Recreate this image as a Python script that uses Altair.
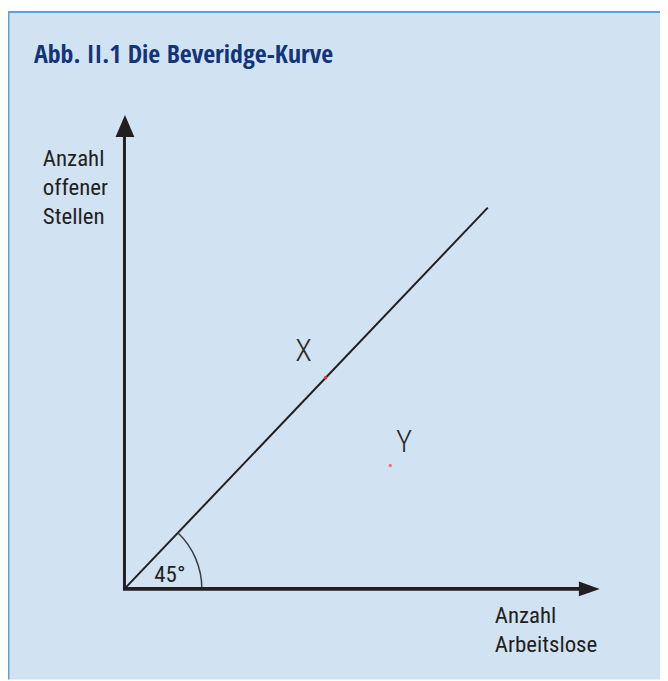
import altair as alt
import pandas as pd

# ---- content ----
title_text = "Abb. II.1  Die Beveridge-Kurve"
y_axis_label = "Anzahl\noffener\nStellen"
x_axis_label = "Anzahl\nArbeitslose"
angle_label = "45°"

# schematic coordinate system (origin of the diagram at 0,0)
curve_x = [0, 365]
curve_y = [0, 383]
point_names = ["X", "Y"]
point_x = [202, 267]
point_y = [212, 124]
point_colors = ["#ec2a33", "#f0707c"]
name_x = [180, 281]
name_y = [238, 147]
axis_end = [470, 458]       # ends of the x and y axis lines
arrow_pos = [467, 465]      # arrow heads (x axis, y axis)

W, H = 655, 671
xs = alt.Scale(domain=[-117, 538], nice=False, zero=False)
ys = alt.Scale(domain=[-91, 580], nice=False, zero=False)
FONT = "Roboto Condensed, Liberation Sans, sans-serif"
TFONT = "Open Sans Condensed, Roboto Condensed, sans-serif"
INK = "#231f20"

def X(f="x"):
    return alt.X(f"{f}:Q", scale=xs, axis=None)

def Y(f="y"):
    return alt.Y(f"{f}:Q", scale=ys, axis=None)

# diagonal line
curve_df = pd.DataFrame({"x": curve_x, "y": curve_y})
curve = alt.Chart(curve_df).mark_line(color=INK, strokeWidth=2).encode(x=X(), y=Y())

# axes
yaxis_df = pd.DataFrame({"x": [0], "y": [0], "y2": [axis_end[1]]})
yaxis = alt.Chart(yaxis_df).mark_rule(color=INK, strokeWidth=3).encode(
    x=X(), y=Y(), y2="y2:Q")
xaxis_df = pd.DataFrame({"x": [-1.5], "x2": [axis_end[0]], "y": [0]})
xaxis = alt.Chart(xaxis_df).mark_rule(color=INK, strokeWidth=4).encode(
    x=X(), x2="x2:Q", y=Y())

up_arrow = alt.Chart(pd.DataFrame({"x": [0.5], "y": [arrow_pos[1]]})).mark_point(
    shape="M-0.86,1L0.86,1L0,-1Z", size=484, filled=True, opacity=1, color=INK
).encode(x=X(), y=Y())
right_arrow = alt.Chart(pd.DataFrame({"x": [arrow_pos[0]], "y": [0]})).mark_point(
    shape="M-1,-0.7L1,0L-1,0.7Z", size=441, filled=True, opacity=1, color=INK
).encode(x=X(), y=Y())

# 45° arc
arc = alt.Chart(pd.DataFrame({"x": [0], "y": [0]})).mark_arc(
    radius=78.5, radius2=77, theta=0.761, theta2=1.5708, color="#3c3c3c"
).encode(x=X(), y=Y())

# points
pts_df = pd.DataFrame({"name": point_names, "x": point_x, "y": point_y,
                       "c": point_colors, "lx": name_x, "ly": name_y})
pts = alt.Chart(pts_df).mark_point(filled=True, opacity=1, size=12).encode(
    x=X(), y=Y(), color=alt.Color("c:N", scale=None))
names = alt.Chart(pts_df).mark_text(
    font=FONT, fontSize=31, fontWeight=300, color="#2a2a2a", align="center", baseline="middle"
).encode(x=X("lx"), y=Y("ly"), text="name:N")

# labels
lab_df = pd.DataFrame({
    "t": [y_axis_label, x_axis_label, angle_label],
    "x": [-82, 372, 30],
    "y": [425, -34, 7],
})
labels = alt.Chart(lab_df).mark_text(
    font=FONT, fontSize=23, color=INK, align="left", baseline="alphabetic",
    lineBreak="\n", lineHeight=29
).encode(x=X(), y=Y(), text="t:N")

title = alt.Chart(pd.DataFrame({"t": [title_text]})).mark_text(
    font=TFONT, fontSize=26, fontWeight="bold", color="#12357a",
    align="left", baseline="alphabetic"
).encode(x=alt.value(26), y=alt.value(52), text="t:N")

# frame borders (left and top)
left_border = alt.Chart(pd.DataFrame({"a": [0]})).mark_rule(
    color="#5aa3da", strokeWidth=2).encode(x=alt.value(0.5), y=alt.value(0), y2=alt.value(H))
top_border = alt.Chart(pd.DataFrame({"a": [0]})).mark_rule(
    color="#5aa3da", strokeWidth=2).encode(y=alt.value(0.5), x=alt.value(0), x2=alt.value(W))

chart = alt.layer(
    left_border, top_border, curve, arc, yaxis, xaxis, up_arrow, right_arrow,
    pts, names, labels, title
).properties(
    width=W, height=H,
    autosize=alt.AutoSizeParams(type="none"),
    padding={"left": 0, "top": 2, "right": 0, "bottom": 0},
    background="white",
).configure_view(fill="#d1e3f3", strokeWidth=0)

chart.save("out.html", embed_options={"renderer": "svg", "actions": False})
